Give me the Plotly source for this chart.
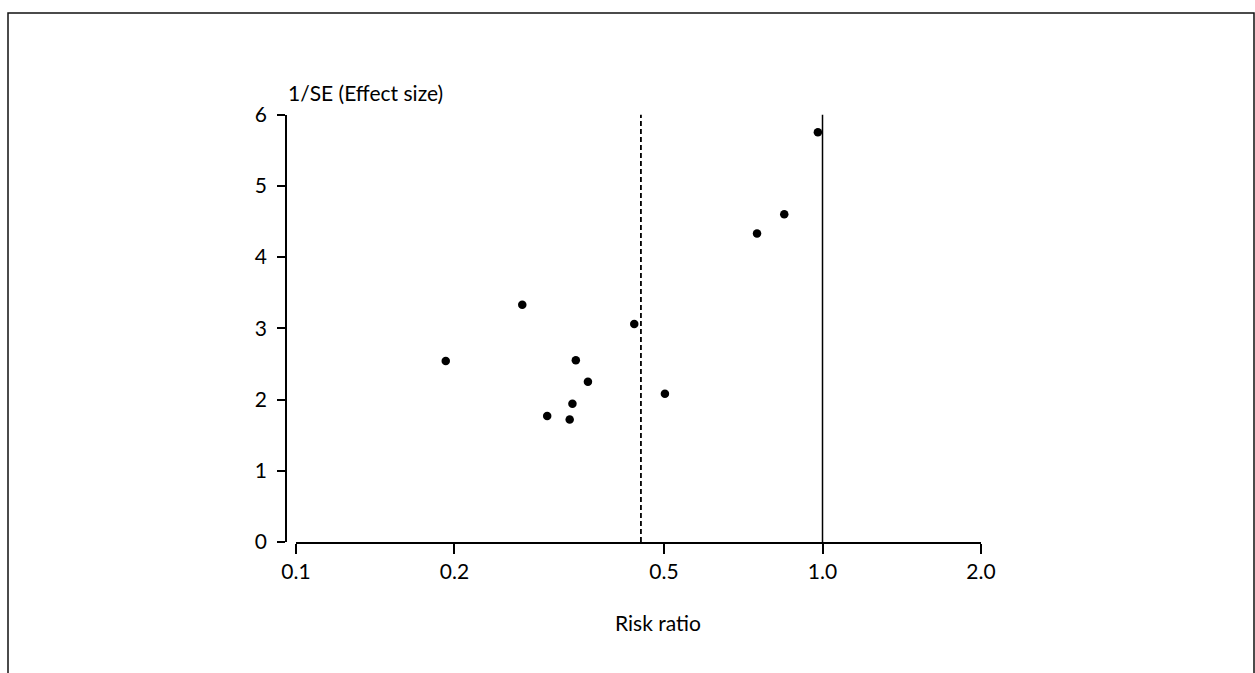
import plotly.graph_objects as go
import math

# Data
risk_ratio = [0.980, 0.846, 0.751, 0.269, 0.439, 0.1925, 0.340, 0.3585, 0.502, 0.335, 0.300, 0.331]
inv_se = [5.75, 4.60, 4.33, 3.33, 3.06, 2.54, 2.55, 2.25, 2.08, 1.94, 1.77, 1.72]
x_ticks = [0.1, 0.2, 0.5, 1.0, 2.0]
x_tick_labels = ["0.1", "0.2", "0.5", "1.0", "2.0"]
y_ticks = [0, 1, 2, 3, 4, 5, 6]
y_tick_labels = ["0", "1", "2", "3", "4", "5", "6"]
pooled_rr = 0.452
null_rr = 1.0

W, H = 1255, 673
FONT = "Lato"
FS = 21

fig = go.Figure()
fig.add_trace(go.Scatter(
    x=risk_ratio, y=inv_se, mode="markers",
    marker=dict(color="black", size=8.5),
    showlegend=False, hoverinfo="x+y",
))

# reference lines
fig.add_shape(type="line", xref="x", yref="y", x0=pooled_rr, x1=pooled_rr, y0=0, y1=6,
              line=dict(color="black", width=1.8, dash="5px,3px"), layer="below")
fig.add_shape(type="line", xref="x", yref="y", x0=null_rr, x1=null_rr, y0=0, y1=6,
              line=dict(color="black", width=1.5), layer="below")

# outer frame
fig.add_shape(type="rect", xref="paper", yref="paper",
              x0=8 / W, x1=1254 / W, y0=-0.2, y1=(H - 13) / H,
              line=dict(color="#111", width=1.5), fillcolor="rgba(0,0,0,0)")

fig.update_layout(
    width=W, height=H,
    margin=dict(l=0, r=0, t=0, b=0),
    paper_bgcolor="white", plot_bgcolor="white",
    font=dict(family=FONT, size=FS, color="black"),
    xaxis=dict(
        type="log", range=[-1, math.log10(2)],
        domain=[296 / W, 981 / W],
        tickvals=x_ticks, ticktext=x_tick_labels,
        showline=True, linecolor="black", linewidth=1.5,
        ticks="outside", ticklen=10, tickwidth=1.5, tickcolor="black",
        showgrid=False, zeroline=False, automargin=False,
        tickfont=dict(family=FONT, size=FS),
    ),
    yaxis=dict(
        range=[0, 6],
        domain=[(H - 542) / H, (H - 114.5) / H],
        anchor="free", position=286 / W,
        tickvals=y_ticks, ticktext=y_tick_labels,
        showline=True, linecolor="black", linewidth=1.5,
        ticks="outside", ticklen=8, tickwidth=1.5, tickcolor="black",
        ticklabelstandoff=6,
        showgrid=False, zeroline=False, automargin=False,
        tickfont=dict(family=FONT, size=FS),
    ),
    annotations=[
        dict(text="1/SE (Effect size)", xref="paper", yref="paper",
             x=286 / W, y=(H - 93) / H, xanchor="left", yanchor="middle",
             showarrow=False, font=dict(family=FONT, size=FS)),
        dict(text="Risk ratio", xref="paper", yref="paper",
             x=658 / W, y=(H - 622) / H, xanchor="center", yanchor="middle",
             showarrow=False, font=dict(family=FONT, size=FS)),
    ],
)

fig.write_html("out.html")
